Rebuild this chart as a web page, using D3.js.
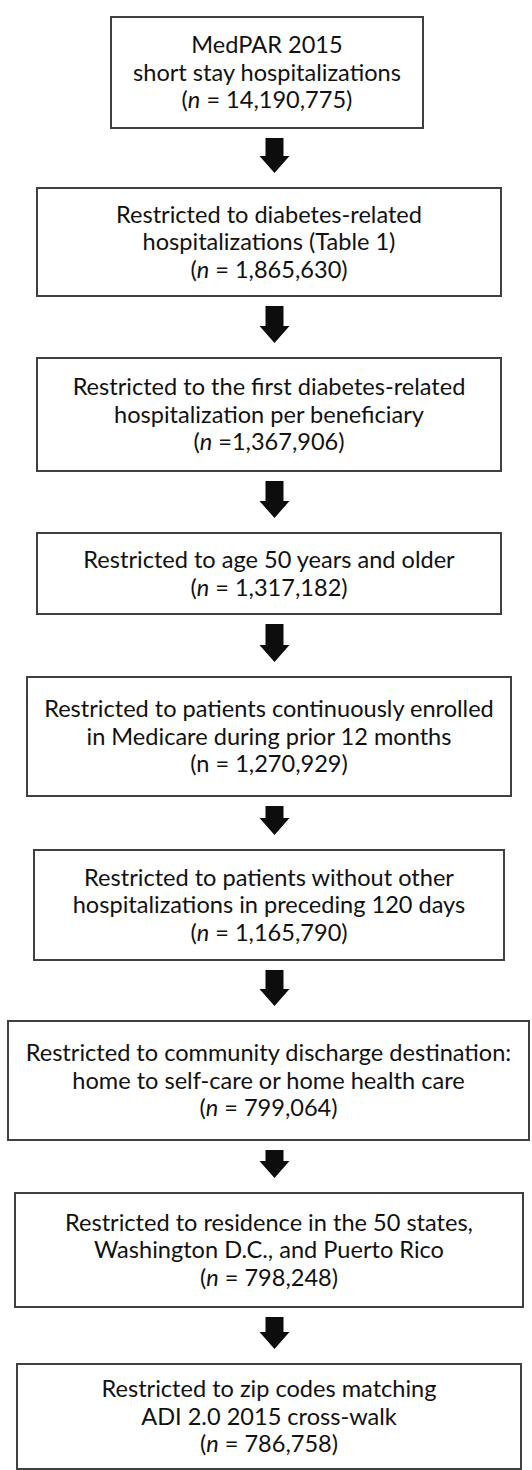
<!DOCTYPE html>
<html>
<head>
<meta charset="utf-8">
<script src="https://cdn.jsdelivr.net/npm/d3@7"></script>
<style>
  html, body { margin: 0; padding: 0; background: #ffffff; }
  svg { display: block; }
</style>
</head>
<body>
<svg id="chart" width="532" height="1470"></svg>
<script>
// ---- data ----
const stepLines = [
  ["MedPAR 2015", "short stay hospitalizations"],
  ["Restricted to diabetes-related", "hospitalizations (Table 1)"],
  ["Restricted to the first diabetes-related", "hospitalization per beneficiary"],
  ["Restricted to age 50 years and older"],
  ["Restricted to patients continuously enrolled", "in Medicare during prior 12 months"],
  ["Restricted to patients without other", "hospitalizations in preceding 120 days"],
  ["Restricted to community discharge destination:", "home to self-care or home health care"],
  ["Restricted to residence in the 50 states,", "Washington D.C., and Puerto Rico"],
  ["Restricted to zip codes matching", "ADI 2.0 2015 cross-walk"]
];
const counts = ["14,190,775", "1,865,630", "1,367,906", "1,317,182", "1,270,929",
                "1,165,790", "799,064", "798,248", "786,758"];
const countItalic = [true, true, true, true, false, true, true, true, true];
const countEquals = [" = ", " = ", " =", " = ", " = ", " = ", " = ", " = ", " = "];

// ---- layout (positions kept apart from the data) ----
const boxTop    = [17, 188, 358, 533, 677, 850, 1021, 1193, 1364];
const boxBottom = [128, 296, 471, 614, 796, 960, 1140, 1307, 1469];
const boxLeft   = [111, 37, 37, 37, 27, 34, 8, 15, 17];
const boxRight  = [423, 501, 501, 501, 511, 504, 529, 523, 521];
const arrowX = 274.5;
const lineGap = 27.5;

const svg = d3.select("#chart");
const fontFamily = "Lato, 'Open Sans', sans-serif";

// size the font so the reference line matches its width in the original
const probe = svg.append("text").attr("font-family", fontFamily).attr("font-size", 100)
  .text("short stay hospitalizations");
const w100 = probe.node().getComputedTextLength();
probe.remove();
const fontSize = 268 / w100 * 100;

const steps = stepLines.map((lines, i) => ({
  lines, count: counts[i], italic: countItalic[i], eq: countEquals[i],
  x0: boxLeft[i], x1: boxRight[i], y0: boxTop[i], y1: boxBottom[i]
}));

const g = svg.selectAll("g.step").data(steps).join("g").attr("class", "step");

g.append("rect")
  .attr("x", d => d.x0).attr("y", d => d.y0)
  .attr("width", d => d.x1 - d.x0).attr("height", d => d.y1 - d.y0)
  .attr("fill", "#ffffff").attr("stroke", "#404040").attr("stroke-width", 2);

g.each(function (d) {
  const sel = d3.select(this);
  const cx = (d.x0 + d.x1) / 2;
  const all = d.lines.length + 1;
  const cy = (d.y0 + d.y1) / 2;
  const t = sel.append("text")
    .attr("font-family", fontFamily).attr("font-size", fontSize)
    .attr("fill", "#111111").attr("text-anchor", "middle");
  d.lines.forEach((ln, k) => {
    t.append("tspan").attr("x", cx)
      .attr("y", cy + (k - (all - 1) / 2) * lineGap).attr("dy", "0.36em").text(ln);
  });
  const last = t.append("tspan").attr("x", cx)
    .attr("y", cy + ((all - 1) - (all - 1) / 2) * lineGap).attr("dy", "0.36em");
  last.append("tspan").text("(");
  last.append("tspan").attr("font-style", d.italic ? "italic" : "normal").text("n");
  last.append("tspan").text(d.eq + d.count + ")");
});

// arrows between consecutive boxes
const arrows = d3.range(steps.length - 1).map(i => ({ from: steps[i], to: steps[i + 1] }));
const shaftW = 18, headW = 30, headL = 17;
svg.selectAll("path.arrow").data(arrows).join("path").attr("class", "arrow")
  .attr("d", a => {
    const top = a.from.y1 + 10, tip = a.to.y0 - 15;
    const hy = tip - headL;
    const p = d3.path();
    p.moveTo(arrowX - shaftW / 2, top);
    p.lineTo(arrowX + shaftW / 2, top);
    p.lineTo(arrowX + shaftW / 2, hy);
    p.lineTo(arrowX + headW / 2, hy);
    p.lineTo(arrowX, tip);
    p.lineTo(arrowX - headW / 2, hy);
    p.lineTo(arrowX - shaftW / 2, hy);
    p.closePath();
    return p.toString();
  })
  .attr("fill", "#0d0d0d");
</script>
</body>
</html>
